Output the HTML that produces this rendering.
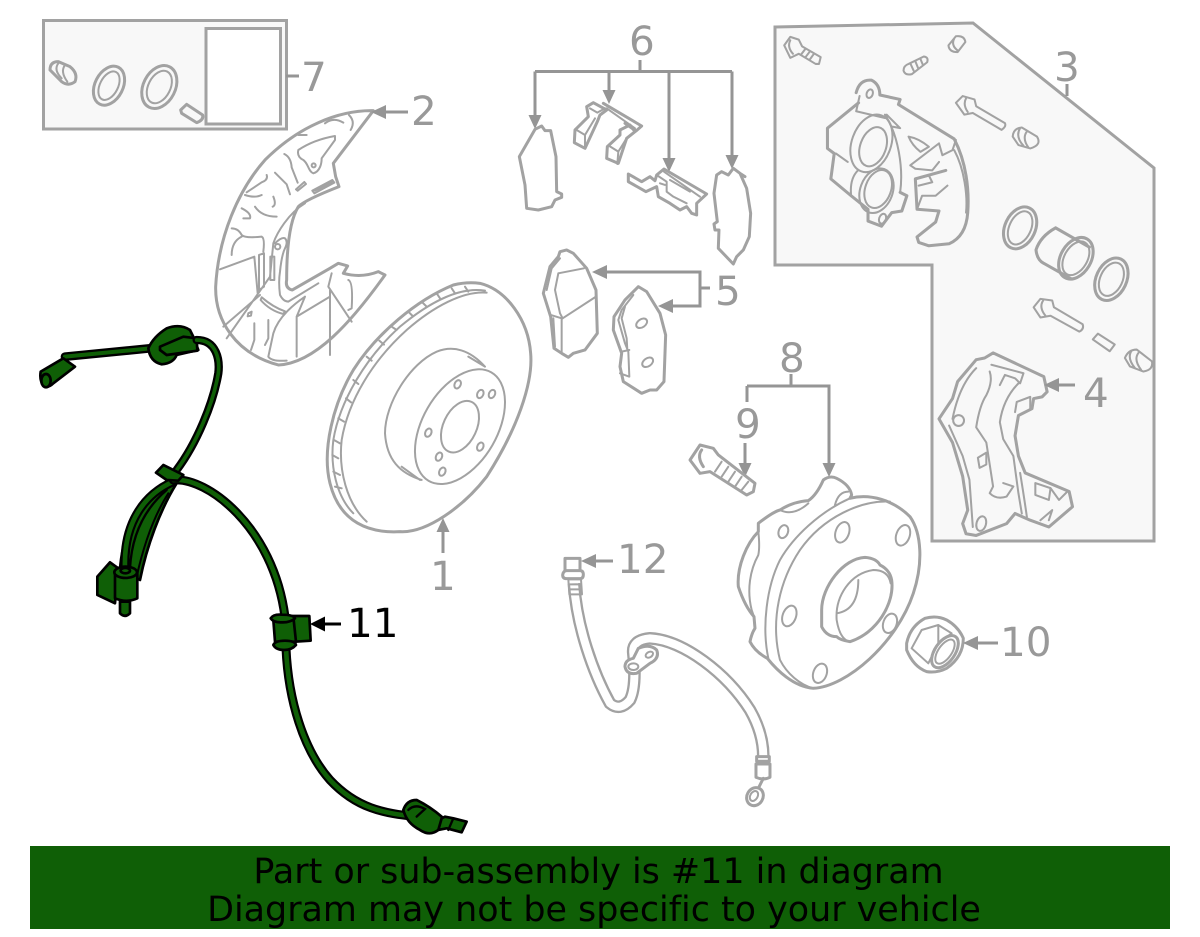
<!DOCTYPE html>
<html><head><meta charset="utf-8"><style>
html,body{margin:0;padding:0;background:#fff}
svg{display:block}
text{font-family:"DejaVu Sans",sans-serif;font-variant-ligatures:none}
.o,.i{stroke:#a2a2a2;stroke-linejoin:round;stroke-linecap:round;fill:none}
.o{stroke-width:9}
.i{stroke-width:6}
.l{fill:none;stroke:#959595;stroke-width:3}
.a{fill:#959595}
.n{fill:#999;font-size:40.500px}
.k{fill:#0f5f06;stroke:#000;stroke-width:8;stroke-linejoin:round;stroke-linecap:round}
.b{fill:none;stroke:#000;stroke-linecap:round}
.c{fill:none;stroke:#0f5f06;stroke-linecap:round}
</style></head><body>
<svg width="1200" height="937" viewBox="0 0 1200 937" xmlns="http://www.w3.org/2000/svg">
<rect width="1200" height="937" fill="#fff"/>

<!-- 7 kit -->
<rect x="43.500" y="20.500" width="243" height="108.500" fill="#f8f8f8" stroke="#a2a2a2" stroke-width="3"/>
<rect x="206" y="28.500" width="74.500" height="95.500" fill="#fff" stroke="#a2a2a2" stroke-width="3"/>
<path class="l" d="M286 76H299"/>
<text class="n" x="301" y="91">7</text>
<g transform="translate(30 15) scale(.3333)">
<path class="o" d="M60 165Q60 140 85 140L120 155Q145 175 135 200Q115 215 95 200Z"/>
<path class="i" d="M85 145Q70 165 95 190M105 150Q90 170 112 200"/>
<ellipse class="o" cx="237" cy="212" rx="42" ry="62" transform="rotate(27 237 212)"/>
<ellipse class="i" cx="237" cy="212" rx="27" ry="46" transform="rotate(27 237 212)"/>
<ellipse class="o" cx="388" cy="216" rx="48" ry="68" transform="rotate(27 388 216)"/>
<ellipse class="i" cx="388" cy="216" rx="33" ry="52" transform="rotate(27 388 216)"/>
<path class="o" d="M452 285L470 268L518 300Q522 315 500 323L455 295Z"/>
</g>

<!-- 2 shield -->
<g transform="translate(205 100) scale(.3333)">
<path class="o" d="M505 32C400 30 280 80 180 180C100 270 40 410 32 560C30 660 90 760 220 795C330 790 440 665 540 525L520 515Q470 535 415 520L428 498L400 490L375 505L262 570Q240 565 245 540C245 440 255 360 280 320Q300 300 402 260L392 230L385 190Z"/>
<path class="i" d="M360 70q25-20 55-2M432 45q20 20 5 45M280 105h25M390 108C350 115 310 130 280 150Q275 170 295 180C310 190 310 215 325 220C345 215 350 190 350 175L390 120ZM238 162q20 10 22 40L278 248M273 268l25-22 5 6-25 20zM322 272l60-32 6 8-60 32zM330 272l50-25M185 225q5 15-15 22q-30 20-45 30M210 218l35 35 10 30M120 285q30 10 50 0M205 290q10 25-2 30M150 320q20 30 65 30M110 325q30 15 25 30l-20 0M80 385q20 0 30 20q10 10 60 5q10 5 5 45M110 410q-30 15-30 55M45 508L148 470L158 580M162 465l15-5v100l-15 10zM196 470h12v70h-12zM300 310C250 340 215 400 205 430L195 530L65 715M55 680L165 585M210 430q20-20 30-15q10 10 0 30q-10 20-15 70q-5 30 0 70q10 20 25 20l90-55M170 592q35 30 70 42l-5 8q-40-10-68-42zM130 640l10-5-2 12-10 2zM148 670v50l-10 30M190 660v55l-10 20M380 520l-10 40 70 105M375 570v195M300 590L275 650v120M275 650L375 590M300 590C270 610 220 650 205 700L190 770q10 15 55 12M430 540q15 5 10 85l-10 5"/>
<circle class="i" cx="326" cy="196" r="6"/><circle class="i" cx="218" cy="440" r="8"/>
</g>
<path class="l" d="M384 112H408"/><path class="a" d="M371 112l15-7v14z"/>
<text class="n" x="411" y="125">2</text>

<!-- 1 rotor -->
<g transform="translate(320 270) scale(.3333)">
<path class="o" d="M480 40C560 60 625 150 632 250C640 340 590 480 500 620C430 710 320 790 240 785C150 790 60 760 30 640C5 540 40 400 100 300C170 190 290 90 400 45Q440 35 480 40Z" fill="#fff" style="fill:#fff"/>
<path class="i" d="M495 62C420 50 330 95 240 170C140 260 60 390 40 510C30 590 50 680 100 730M500 68C430 62 340 110 260 180C160 270 85 390 65 510C55 600 80 700 140 755M435 50l10 15M395 55l10 15M350 70l10 15M305 95l13 13M265 125l13 13M215 170l15 10M178 212l14 12M140 260l15 12M100 330l15 12M78 385l15 12M55 445l17 10M42 510l18 10M37 555l18 10M40 605l20 10M45 650l20 5M495 290C450 240 400 225 350 245C270 280 195 400 195 490C200 570 240 610 305 630M445 260L495 290M245 590L300 630"/>
<ellipse class="i" cx="420" cy="470" rx="112" ry="188" transform="rotate(30 420 470)"/>
<ellipse class="i" cx="420" cy="470" rx="50" ry="82" transform="rotate(25 420 470)"/>
<g><ellipse class="i" cx="413" cy="343" rx="9" ry="13" transform="rotate(25 413 343)"/><ellipse class="i" cx="481" cy="372" rx="9" ry="13" transform="rotate(25 481 372)"/><ellipse class="i" cx="516" cy="372" rx="9" ry="13" transform="rotate(25 516 372)"/><ellipse class="i" cx="325" cy="488" rx="9" ry="13" transform="rotate(25 325 488)"/><ellipse class="i" cx="481" cy="530" rx="9" ry="13" transform="rotate(25 481 530)"/><ellipse class="i" cx="357" cy="560" rx="9" ry="13" transform="rotate(25 357 560)"/><ellipse class="i" cx="367" cy="605" rx="9" ry="13" transform="rotate(25 367 605)"/></g>
</g>
<path class="l" d="M443 553V530"/><path class="a" d="M443 518l6.500 14h-13z"/>
<text class="n" x="430" y="590">1</text>

<!-- 6 + pads -->
<text class="n" x="629" y="55">6</text>
<path class="l" d="M640 60V71.500M535 71.500H732M535 71.500V120M609 71.500V96M669 71.500V160M732 71.500V158"/>
<path class="a" d="M535 129l-6.500-14h13zM609 104l-6.500-14h13zM669 172l-6.500-14h13zM732 169l-6.500-14h13z"/>
<g transform="translate(510 60) scale(.3333)">
<path class="o" d="M75 208L95 198L105 212L122 212L138 290L140 395L155 402L155 412L135 420L125 440L85 450L50 445L45 375L28 290Z"/>
<path class="o" d="M230 140L250 128L290 150L270 165L262 185L225 265L193 248L195 210L235 170Z"/>
<path class="i" d="M200 210L225 225L225 265M225 225L255 175M240 145L262 158L285 145"/>
<path class="o" d="M330 210L360 195L375 215L350 235L325 310L290 295L292 260L330 225Z"/>
<path class="i" d="M298 258L325 275L322 312M325 275L350 235"/>
<path class="o" d="M280 130L395 198L378 213L345 190"/>
<path class="i" d="M290 145L375 205"/>
<path class="o" d="M355 342L395 365L420 350L435 362L440 345L462 327L590 402L560 430L560 465L545 460L530 440L510 450L480 430L445 410L440 380L408 395L355 365Z"/>
<path class="i" d="M462 335L570 410M480 360L540 395M440 345L470 365L470 395L490 410L530 430M450 370L465 375"/>
<path class="o" d="M670 325L655 345L635 335L620 345L612 400L622 485L612 492L615 510L627 510L625 565L670 612L680 590L700 570L718 530L722 460L710 385L690 340ZM690 340L705 350"/>
<path class="o" d="M150 575L170 570L190 580L230 625L258 690L262 820L225 870L190 880L175 892L155 880L132 865L122 770L100 700L120 620L145 590Z"/>
<path class="i" d="M110 690L125 625L150 595M145 640L222 625M145 640L135 690L150 760L158 775L258 710M122 765L155 775L155 875M130 775L135 860"/>
<path class="o" d="M385 680L410 695L450 760L467 825L462 965L440 990L420 990L395 1000L340 965L330 920L335 880L310 810L312 770L345 720L370 695Z"/>
<path class="i" d="M370 705L335 750L325 780L345 850L355 875L358 950L330 940M335 875L358 870M345 740L335 775L350 835L352 870"/>
<ellipse class="i" cx="395" cy="790" rx="18" ry="12" transform="rotate(-35 395 790)"/>
<ellipse class="i" cx="413" cy="907" rx="18" ry="12" transform="rotate(-35 413 907)"/>
</g>
<path class="l" d="M600 272H700V306H668M700 288H710"/>
<path class="a" d="M592 272l15-7v14zM658 306l15-7v14z"/>
<text class="n" x="715" y="305">5</text>

<!-- 3 box -->
<path d="M775 27L973 23L1154 168V541H932V265H775Z" fill="#f8f8f8" stroke="#a2a2a2" stroke-width="3"/>
<path class="l" d="M1067 84V96"/>
<text class="n" x="1054" y="81">3</text>
<g transform="translate(770 20) scale(.338)">
<!-- bolts -->
<path class="i" d="M42 75L60 50L85 58L95 78L150 110L145 130L135 130L85 100L60 112ZM60 60Q50 80 68 100M105 85L92 102M118 93L105 110M130 100L117 118"/>
<path class="i" d="M395 150Q395 135 410 130L455 108Q470 110 465 125L420 160Q400 165 395 150ZM415 128L425 150M430 122L438 142M445 115L452 132"/>
<path class="i" d="M528 75L550 48Q575 45 578 65L555 95Q530 95 528 75ZM545 55Q535 75 555 90"/>
<path class="i" d="M550 245L570 225L605 235L610 255L695 305Q700 315 685 325L600 275L575 280ZM580 232Q570 250 585 272"/>
<path class="i" d="M718 345Q720 320 745 318L790 345Q805 370 770 380L735 370ZM740 320Q725 345 750 372M760 330Q745 350 765 378"/>
<!-- caliper -->
<path class="o" d="M255 215Q265 175 300 178Q325 190 325 222L385 235L380 250L545 352C580 420 590 500 585 570Q580 640 530 662L470 668L440 658L435 642L490 598L500 565L435 560L430 470L520 445"/>
<path class="o" d="M262 245L170 320L170 380L190 395L180 470L240 520L290 560L290 595L330 610L360 570L390 565L405 520L385 510"/>
<path class="i" d="M340 280C380 340 395 440 385 510M265 225L255 270M345 280L385 320L360 315M255 270L340 290M415 430L500 365L510 400L540 385L550 355M415 430L430 440L480 445L500 420M545 385C575 440 585 520 580 570M410 345Q440 350 470 375L445 390Q420 370 410 345ZM430 470L470 460L480 480L440 490M240 520Q235 470 260 445M195 395L230 420M435 560L450 520L490 520L525 490"/>
<ellipse class="i" cx="305" cy="375" rx="38" ry="60" transform="rotate(20 305 375)"/>
<ellipse class="i" cx="300" cy="365" rx="58" ry="88" transform="rotate(20 300 365)"/>
<ellipse class="i" cx="320" cy="500" rx="38" ry="58" transform="rotate(20 320 500)"/>
<ellipse class="i" cx="315" cy="505" rx="48" ry="68" transform="rotate(20 315 505)"/>
<ellipse class="i" cx="295" cy="218" rx="9" ry="13" transform="rotate(20 295 218)"/>
<ellipse class="i" cx="333" cy="588" rx="10" ry="15" transform="rotate(20 333 588)"/>
<!-- seals, piston -->
<ellipse class="o" cx="740" cy="615" rx="45" ry="65" transform="rotate(25 740 615)"/>
<ellipse class="i" cx="740" cy="615" rx="32" ry="52" transform="rotate(25 740 615)"/>
<path class="o" d="M845 615L945 672M845 615Q800 640 787 680Q790 710 810 720L890 765"/>
<ellipse class="o" cx="905" cy="705" rx="45" ry="66" transform="rotate(30 905 705)"/>
<ellipse class="i" cx="905" cy="705" rx="34" ry="54" transform="rotate(30 905 705)"/>
<ellipse class="o" cx="1010" cy="767" rx="45" ry="66" transform="rotate(25 1010 767)"/>
<ellipse class="i" cx="1010" cy="767" rx="33" ry="52" transform="rotate(25 1010 767)"/>
<!-- bolt 3 -->
<path class="i" d="M780 850L800 825L835 830L840 850L925 900Q930 915 915 922L830 875L800 880ZM808 830Q795 850 815 875"/>
<path class="i" d="M955 945L970 928L1020 960L1005 980Z"/>
<path class="i" d="M1050 1000Q1060 975 1085 975L1130 1010Q1135 1035 1105 1040L1065 1025ZM1070 978Q1055 1000 1080 1030M1090 985Q1075 1005 1098 1035"/>
<!-- bracket 4 -->
<path class="o" d="M660 985L810 1055L820 1100L805 1115L780 1120L775 1150L735 1170L725 1230L735 1290L755 1340L885 1395L895 1440L825 1500L770 1480L725 1460L700 1490L610 1525L580 1520L570 1490L585 1450L570 1350L540 1250L500 1180L540 1120L555 1070L610 1005L635 1000Z"/>
<path class="i" d="M655 1020L750 1045L740 1075L725 1060L695 1050L680 1080M650 1040Q660 1070 640 1110Q620 1140 610 1205L640 1250L660 1380L650 1400Q670 1420 700 1410L720 1380L690 1370M735 1075Q690 1120 680 1190L690 1240L720 1290L735 1400L745 1460M610 1030Q560 1080 540 1180M725 1160L730 1130L770 1115L770 1150M530 1200L570 1290L590 1360L600 1500M785 1370L830 1385L825 1420L785 1405ZM880 1395L855 1420L830 1385M800 1480L835 1450L825 1480M740 1340Q750 1400 760 1470"/>
<circle class="i" cx="558" cy="1185" r="16"/>
<ellipse class="i" cx="625" cy="1490" rx="14" ry="22" transform="rotate(15 625 1490)"/>
<path class="i" d="M615 1295L640 1280L640 1315L620 1325Z"/>
</g>
<path class="l" d="M1054 385H1075"/><path class="a" d="M1044 385l15-7v14z"/>
<text class="n" x="1083" y="407">4</text>

<!-- 8, 9 -->
<text class="n" x="779" y="372">8</text>
<path class="l" d="M791 374V386M747 386H829V465M747 386V402M745 443V465"/>
<path class="a" d="M829 477l-6.500-14h13zM745 477l-6.500-14h13z"/>
<text class="n" x="735" y="438">9</text>

<!-- hub, nut, bolt 9 -->
<g transform="translate(680 430) scale(.3333)">
<path class="o" d="M30 90L60 45L100 55L115 75L225 160L220 185L200 195L90 125L60 130ZM65 60q-15 20 5 50"/>
<path class="i" d="M125 95L105 125M145 110L125 140M165 125L145 155M185 140L165 170M205 155L185 180"/>
<path class="o" d="M235 280Q280 245 300 240Q340 215 385 212Q410 195 430 150Q450 135 470 145Q510 165 515 195L510 205C570 190 640 210 690 260C725 310 730 400 700 490C650 640 500 770 400 775C340 770 290 720 262 685Q225 665 210 635Q215 610 225 595L222 560Q195 530 175 470C170 410 200 340 235 305Z"/>
<path class="i" d="M630 215C545 210 430 260 360 360C300 450 270 570 300 690C320 730 360 765 400 775M510 205C420 245 340 320 300 390C260 470 245 590 265 685M235 305Q240 350 235 375C210 420 200 480 215 540L222 560M300 240Q340 260 385 220M465 225Q475 185 505 185"/>
<path class="o" d="M425 540C425 470 490 385 555 382Q590 385 600 405Q630 420 635 450C645 520 590 610 510 635Q480 630 470 620Q440 620 425 590Z"/>
<path class="i" d="M470 570C465 500 510 430 580 420Q625 420 632 460M470 570Q480 630 510 635M470 550Q535 540 535 450"/>
<ellipse class="i" cx="310" cy="305" rx="14" ry="20" transform="rotate(20 310 305)"/>
<ellipse class="i" cx="487" cy="307" rx="20" ry="32" transform="rotate(20 487 307)"/>
<ellipse class="i" cx="669" cy="316" rx="20" ry="32" transform="rotate(20 669 316)"/>
<ellipse class="i" cx="328" cy="558" rx="20" ry="32" transform="rotate(20 328 558)"/>
<ellipse class="i" cx="420" cy="730" rx="20" ry="30" transform="rotate(20 420 730)"/>
<ellipse class="i" cx="630" cy="580" rx="20" ry="30" transform="rotate(20 630 580)"/>
<path class="o" d="M680 640Q690 590 735 565Q770 555 800 570Q835 590 850 625Q850 680 800 715Q770 730 740 725Q700 710 680 660Z"/>
<path class="i" d="M695 655L725 600L775 585L815 610L775 640L745 700L695 655M775 640L775 590"/>
<ellipse class="o" cx="795" cy="665" rx="30" ry="55" transform="rotate(35 795 665)"/>
<ellipse class="i" cx="795" cy="665" rx="20" ry="42" transform="rotate(35 795 665)"/>
</g>
<path class="l" d="M972 643H998"/><path class="a" d="M963 643l15-7v14z"/>
<text class="n" x="1000" y="656">10</text>

<!-- 12 hose -->
<g transform="translate(550 540) scale(.3333)">
<path fill="none" stroke="#a2a2a2" stroke-width="38" d="M72 130C80 260 130 400 180 490Q210 515 240 480Q260 440 250 340Q245 300 300 295C400 300 530 400 600 510Q640 580 640 650"/>
<path fill="none" stroke="#fff" stroke-width="24" d="M72 130C80 260 130 400 180 490Q210 515 240 480Q260 440 250 340Q245 300 300 295C400 300 530 400 600 510Q640 580 640 650"/>
<path class="o" d="M45 55h45v40H45z" fill="#fff" style="fill:#fff"/>
<path class="o" d="M38 105Q40 92 50 92h40q10 0 10 12q0 12-10 12h-40q-12 0-12-11z" style="fill:#fff"/>
<path class="i" d="M55 118h38l3 45h-38zM56 133h38M57 148h38"/>
<path class="o" d="M225 380Q225 360 250 355L265 325Q300 310 320 330Q330 355 300 370L260 400Q230 405 225 380Z" style="fill:#fff"/>
<ellipse class="i" cx="250" cy="380" rx="15" ry="10"/>
<ellipse class="i" cx="298" cy="344" rx="12" ry="8" transform="rotate(-30 298 344)"/>
<path class="o" d="M620 650h38v14h-38zM618 672h42v40q-20 10-42 0z" style="fill:#fff"/>
<path class="o" d="M640 715L625 745"/>
<ellipse class="o" cx="615" cy="770" rx="24" ry="28" transform="rotate(30 615 770)" style="fill:#fff"/>
<ellipse class="i" cx="612" cy="768" rx="11" ry="16" transform="rotate(30 612 768)"/>
</g>
<path class="l" d="M590 561H613"/><path class="a" d="M581 561l15-7v14z"/>
<text class="n" x="617" y="573">12</text>

<!-- 11 sensor upper -->
<g transform="translate(20 320) scale(.3333)">
<path class="b" stroke-width="26" stroke-linecap="butt" d="M135 110L390 85"/><path class="c" stroke-width="12" d="M135 110L390 85"/>
<path class="k" d="M62 155L130 115L165 140L100 190Q85 205 70 198Q58 180 62 155Z"/>
<ellipse class="k" cx="78" cy="182" rx="14" ry="20"/>
<path class="k" d="M385 85Q400 50 440 25Q480 10 510 30L520 50L535 90L470 105Q460 130 425 133Q390 125 385 85Z"/>
<path class="k" d="M420 80L490 50L530 55L532 92L440 105L420 90Z"/>
<path class="b" stroke-width="25" d="M530 60C590 60 600 120 595 160C580 250 530 370 470 450"/>
<path class="c" stroke-width="11" d="M530 60C590 60 600 120 595 160C580 250 530 370 470 450"/>
<path d="M470 480C400 510 310 590 300 750L360 780C380 680 420 570 470 490Z" fill="#0f5f06" stroke="#000" stroke-width="8" stroke-linejoin="round"/>
<path class="b" stroke-width="7" d="M440 510C370 570 335 650 330 745"/>
<path class="b" stroke-width="6" d="M445 520C400 590 370 680 350 770"/>
<path class="b" stroke-width="27" d="M460 485C380 520 310 600 315 745"/><path class="c" stroke-width="14" d="M460 485C380 520 310 600 315 745"/>
<path class="b" stroke-width="27" d="M460 480C560 470 760 620 795 890"/><path class="c" stroke-width="14" d="M460 480C560 470 760 620 795 890"/>
<path class="k" d="M408 458L430 435L490 465L475 482L440 480Z"/>
<path class="k" d="M232 770L270 727L295 745L285 850L232 825Z"/>
<path class="k" d="M300 845h30v35q-15 15-30 0z"/>
<path class="k" d="M285 760L352 755L352 835Q320 850 285 835Z"/>
<ellipse class="k" cx="317" cy="757" rx="34" ry="17"/>
<ellipse class="k" cx="316" cy="752" rx="14" ry="8"/>
</g>
<!-- 11 sensor lower -->
<g transform="translate(260 600) scale(.3333)">
<path class="b" stroke-width="27" d="M78 145C85 300 130 450 210 540C290 625 370 640 470 650"/>
<path class="c" stroke-width="14" d="M78 145C85 300 130 450 210 540C290 625 370 640 470 650"/>
<path class="k" d="M95 48H148L152 122L105 125Z"/>
<path class="k" d="M40 60L100 50L108 125L45 125Z"/>
<path class="k" d="M32 55Q40 42 65 44Q100 44 105 55Q90 68 65 67Q40 68 32 55Z"/>
<path class="k" d="M40 135Q45 122 75 122Q105 122 108 135Q95 150 72 150Q48 150 40 135Z"/>
<path class="k" d="M430 630Q440 600 470 600Q510 620 545 650L555 660L535 690Q510 710 480 690Q440 670 430 630Z"/>
<path class="k" d="M545 655L555 650L580 655L620 665L605 697L560 685L535 690Z"/>
<path class="b" stroke-width="7" d="M445 630q20-20 50-3L470 650M580 655L565 690"/>
</g>
<path d="M318 624H341" stroke="#000" stroke-width="3"/><path d="M310 624l15-7.500v15z"/>
<text x="347" y="637" font-size="40.500" fill="#000">11</text>

<!-- footer -->
<rect x="30" y="846" width="1140" height="83" fill="#0f5f06"/>
<text x="598.500" y="883" font-size="34.900" text-anchor="middle" fill="#000">Part or sub-assembly is #11 in diagram</text>
<text x="594" y="921" font-size="34.900" text-anchor="middle" fill="#000">Diagram may not be specific to your vehicle</text>
</svg>
</body></html>
